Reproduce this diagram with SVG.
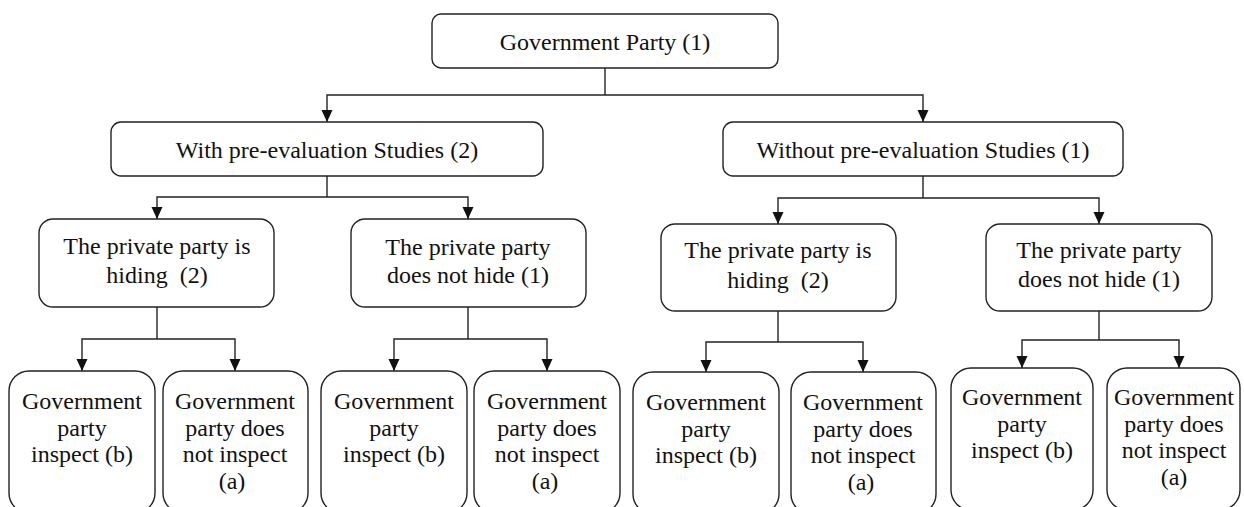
<svg xmlns="http://www.w3.org/2000/svg" width="1244" height="507" viewBox="0 0 1244 507" font-family="serif">
<style>
.box{fill:#fff;stroke:#222;stroke-width:1.4}
.t{font-size:24px;fill:#111;text-anchor:middle}
.c{fill:none;stroke:#222;stroke-width:1.4}
.a{marker-end:url(#arr)}
</style>
<defs>
<marker id="arr" markerUnits="userSpaceOnUse" markerWidth="12" markerHeight="12" viewBox="0 0 12 12" refX="12" refY="6" orient="auto">
<path d="M0,0.5 L12,6 L0,11.5 z" fill="#111"/>
</marker>
</defs>
<rect width="1244" height="507" fill="#fff"/>
<g id="connectors">
<path class="c" d="M605,68 V95"/>
<path class="c a" d="M605,95 H327 V122"/>
<path class="c a" d="M605,95 H923 V122"/>
<path class="c" d="M327,176 V197"/>
<path class="c a" d="M327,197 H157 V219"/>
<path class="c a" d="M327,197 H468 V219"/>
<path class="c" d="M923,176 V198"/>
<path class="c a" d="M923,198 H778 V224"/>
<path class="c a" d="M923,198 H1099 V224"/>
<path class="c" d="M157,307 V339"/>
<path class="c a" d="M157,339 H82 V371"/>
<path class="c a" d="M157,339 H235 V371"/>
<path class="c" d="M468,307 V339"/>
<path class="c a" d="M468,339 H394 V371"/>
<path class="c a" d="M468,339 H547 V371"/>
<path class="c" d="M778,311 V342"/>
<path class="c a" d="M778,342 H706 V372"/>
<path class="c a" d="M778,342 H863 V372"/>
<path class="c" d="M1099,311 V340"/>
<path class="c a" d="M1099,340 H1022 V368"/>
<path class="c a" d="M1099,340 H1179 V368"/>
</g>
<g id="n-root">
<rect class="box" x="432" y="14" width="346" height="54" rx="9"/>
<text class="t" x="605" y="50">Government Party (1)</text>
</g>
<g id="n-with">
<rect class="box" x="111" y="122" width="432" height="54" rx="10"/>
<text class="t" x="327" y="158">With pre-evaluation Studies (2)</text>
</g>
<g id="n-without">
<rect class="box" x="723" y="122" width="400" height="54" rx="10"/>
<text class="t" x="923" y="158">Without pre-evaluation Studies (1)</text>
</g>
<g id="n-hide-l">
<rect class="box" x="39" y="219" width="235" height="88" rx="14"/>
<text class="t" x="157" y="254">The private party is</text>
<text class="t" x="157" y="283" xml:space="preserve">hiding  (2)</text>
</g>
<g id="n-nohide-l">
<rect class="box" x="351" y="219" width="235" height="88" rx="14"/>
<text class="t" x="468" y="255">The private party</text>
<text class="t" x="468" y="283">does not hide (1)</text>
</g>
<g id="n-hide-r">
<rect class="box" x="661" y="224" width="235" height="87" rx="14"/>
<text class="t" x="778" y="258">The private party is</text>
<text class="t" x="778" y="288" xml:space="preserve">hiding  (2)</text>
</g>
<g id="n-nohide-r">
<rect class="box" x="986" y="224" width="226" height="87" rx="14"/>
<text class="t" x="1099" y="258">The private party</text>
<text class="t" x="1099" y="287">does not hide (1)</text>
</g>
<g id="n-l1">
<rect class="box" x="9" y="371" width="146" height="142" rx="20"/>
<text class="t" x="82" y="409">Government</text>
<text class="t" x="82" y="436">party</text>
<text class="t" x="82" y="462">inspect (b)</text>
</g>
<g id="n-l2">
<rect class="box" x="163" y="371" width="145" height="142" rx="20"/>
<text class="t" x="235" y="409">Government</text>
<text class="t" x="235" y="436">party does</text>
<text class="t" x="235" y="462">not inspect</text>
<text class="t" x="232" y="489">(a)</text>
</g>
<g id="n-l3">
<rect class="box" x="321" y="371" width="146" height="142" rx="20"/>
<text class="t" x="394" y="409">Government</text>
<text class="t" x="394" y="436">party</text>
<text class="t" x="394" y="462">inspect (b)</text>
</g>
<g id="n-l4">
<rect class="box" x="474" y="371" width="146" height="142" rx="20"/>
<text class="t" x="547" y="409">Government</text>
<text class="t" x="547" y="436">party does</text>
<text class="t" x="547" y="462">not inspect</text>
<text class="t" x="545" y="489">(a)</text>
</g>
<g id="n-r1">
<rect class="box" x="633" y="372" width="146" height="142" rx="20"/>
<text class="t" x="706" y="410">Government</text>
<text class="t" x="706" y="437">party</text>
<text class="t" x="706" y="463">inspect (b)</text>
</g>
<g id="n-r2">
<rect class="box" x="791" y="372" width="145" height="142" rx="20"/>
<text class="t" x="863" y="410">Government</text>
<text class="t" x="863" y="437">party does</text>
<text class="t" x="863" y="463">not inspect</text>
<text class="t" x="861" y="490">(a)</text>
</g>
<g id="n-r3">
<rect class="box" x="951" y="368" width="142" height="142" rx="20"/>
<text class="t" x="1022" y="405">Government</text>
<text class="t" x="1022" y="432">party</text>
<text class="t" x="1022" y="458">inspect (b)</text>
</g>
<g id="n-r4">
<rect class="box" x="1107" y="368" width="133" height="142" rx="20"/>
<text class="t" x="1174" y="405">Government</text>
<text class="t" x="1174" y="432">party does</text>
<text class="t" x="1174" y="458">not inspect</text>
<text class="t" x="1174" y="485">(a)</text>
</g>
</svg>
